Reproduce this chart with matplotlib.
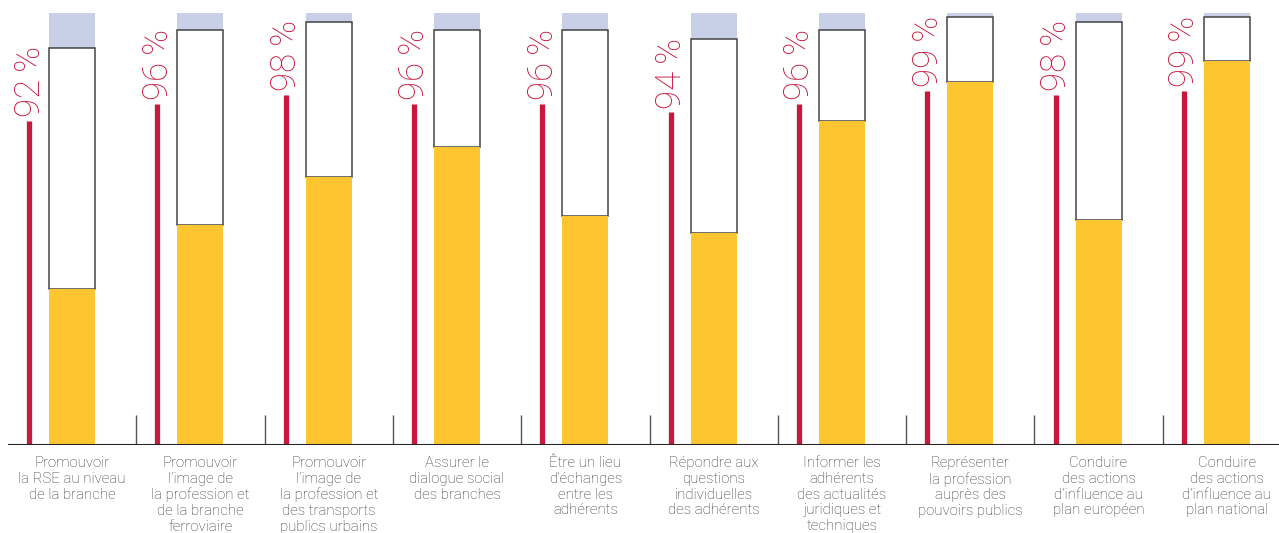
import matplotlib.pyplot as plt
import numpy as np

categories = [
    "Promouvoir\nla RSE au niveau\nde la branche",
    "Promouvoir\nl\u2019image de\nla profession et\nde la branche\nferroviaire",
    "Promouvoir\nl\u2019image de\nla profession et\ndes transports\npublics urbains",
    "Assurer le\ndialogue social\ndes branches",
    "\u00catre un lieu\nd\u2019\u00e9changes\nentre les\nadh\u00e9rents",
    "R\u00e9pondre aux\nquestions\nindividuelles\ndes adh\u00e9rents",
    "Informer les\nadh\u00e9rents\ndes actualit\u00e9s\njuridiques et\ntechniques",
    "Repr\u00e9senter\nla profession\naupr\u00e8s des\npouvoirs publics",
    "Conduire\ndes actions\nd\u2019influence au\nplan europ\u00e9en",
    "Conduire\ndes actions\nd\u2019influence au\nplan national",
]
very_satisfied = [36, 51, 62, 69, 53, 49, 75, 84, 52, 89]
satisfied_total = [92, 96, 98, 96, 96, 94, 96, 99, 98, 99]

yellow = "#fdc52f"
red = "#c8193c"
blue = "#c8d0e8"

x = np.arange(len(categories))
sat = np.array(satisfied_total)
vs = np.array(very_satisfied)

fig = plt.figure(figsize=(12.79, 5.33), dpi=100)
ax = fig.add_axes([8 / 1279, 88 / 533, 1 - 8 / 1279, 445 / 533])

bw = 46 / 128.3
ax.bar(x, 100 - sat, bottom=sat, width=bw, color=blue, linewidth=0)
ax.bar(x, sat - vs, bottom=vs, width=bw, color="white", edgecolor="#444444", linewidth=1.1)
ax.bar(x, vs, width=bw, color=yellow, linewidth=0)

ax.vlines(x - 0.335, 0, sat - 17.0, color=red, linewidth=3.8)
for xi, s in zip(x, sat):
    ax.text(xi - 0.33, s + 0.3, f"{s}\u2009%", rotation=90, ha="center", va="top",
            color=red, fontsize=25, family=["Roboto", "DejaVu Sans"], fontweight="light")

ax.vlines(x[:-1] + 0.5, 0, 7, color="#555555", linewidth=1)
ax.axhline(0, color="#222222", linewidth=1.5)

for xi, c in zip(x, categories):
    ax.text(xi, -2.6, c, ha="center", va="top", fontsize=10.8, color="#333333",
            family="Roboto", fontweight="light", linespacing=1.15)

ax.set_xlim(-0.5, (1279 - 8) / 128.3 - 0.5)
ax.set_ylim(0, 445 / 4.32)
ax.axis("off")

fig.savefig("out.png", dpi=100)
plt.close()
